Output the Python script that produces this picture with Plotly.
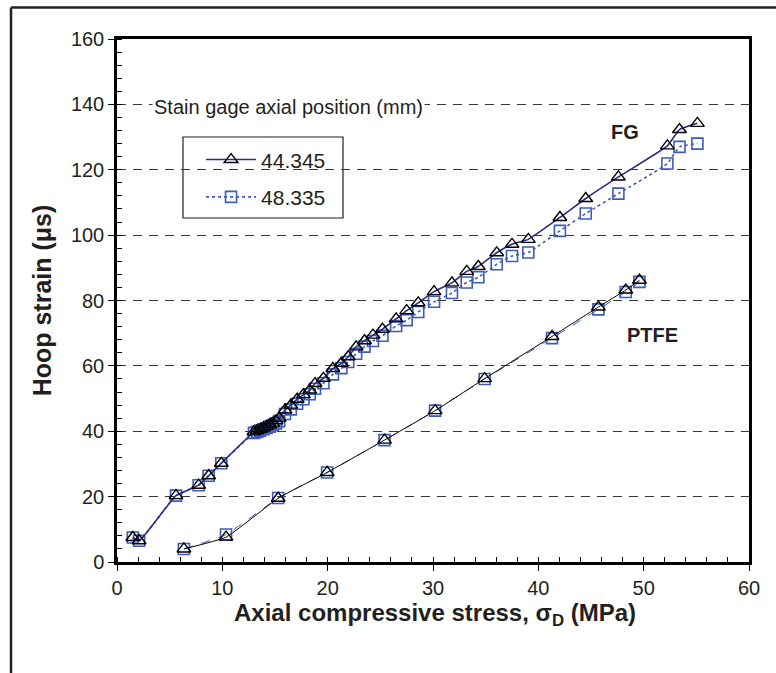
import plotly.graph_objects as go

# ---- data ----
fg_stress = [1.5, 2.1, 5.6, 7.75, 8.7, 9.9, 13.0, 13.3, 13.6, 13.9, 14.2, 14.5, 14.8, 15.1, 15.4,
             15.95, 16.5, 17.1, 17.7, 18.3, 18.8, 19.6, 20.5, 21.3, 21.95, 22.7, 23.5, 24.3, 25.2,
             26.5, 27.5, 28.6, 30.1, 31.8, 33.2, 34.3, 36.05, 37.5, 39.05, 42.05, 44.5, 47.6,
             52.25, 53.4, 55.1]
fg_44345 = [7.5, 6.5, 20.3, 23.5, 26.4, 30.2, 39.8, 40.2, 40.6, 41.0, 41.5, 42.0, 42.5, 43.2, 44.0,
            46.5, 48.0, 49.8, 51.2, 52.6, 54.6, 56.2, 59.2, 60.8, 62.8, 65.8, 67.7, 69.4, 71.2,
            74.4, 76.9, 79.3, 82.7, 85.4, 88.9, 90.4, 94.6, 97.2, 98.7, 105.4, 111.2, 117.8,
            127.3, 132.3, 134.2]
fg_48335 = [7.5, 6.5, 20.3, 23.5, 26.4, 30.2, 39.5, 39.8, 40.2, 40.6, 41.0, 41.4, 41.9, 42.4, 43.1,
            45.3, 46.7, 48.4, 49.8, 51.3, 53.0, 54.7, 57.4, 59.3, 61.2, 63.7, 65.9, 67.6, 69.2,
            72.2, 74.0, 76.5, 79.6, 82.3, 85.5, 87.1, 91.1, 93.6, 94.7, 101.3, 106.6, 112.7,
            121.9, 127.0, 128.0]

ptfe_stress = [6.35, 10.35, 15.3, 19.95, 25.4, 30.2, 34.9, 41.3, 45.7, 48.3, 49.6]
ptfe_44345 = [4.0, 7.6, 19.5, 27.4, 37.3, 46.3, 56.1, 69.0, 78.0, 83.2, 86.2]
ptfe_48335 = [4.0, 8.4, 19.6, 27.4, 37.3, 46.3, 56.0, 68.5, 77.3, 82.6, 85.7]

series_names = ["44.345", "48.335"]
x_ticks = [0, 10, 20, 30, 40, 50, 60]
y_ticks = [0, 20, 40, 60, 80, 100, 120, 140, 160]

NAVY = "#2b2d84"
BLUE = "#3d5cb8"
FONT = "Liberation Sans, Arial, sans-serif"
TXT = "#231f20"

fig = go.Figure()

tri = dict(symbol="triangle-up-open", size=12, color="black", line=dict(width=1.4, color="black"))
sq = dict(symbol="square-open", size=11, color=BLUE, line=dict(width=1.6, color=BLUE))

# PTFE (drawn first)
fig.add_trace(go.Scatter(x=ptfe_stress, y=ptfe_48335, mode="lines+markers", showlegend=False,
                         line=dict(color=BLUE, width=1, dash="dash", shape="spline", smoothing=0.4),
                         marker=sq))
fig.add_trace(go.Scatter(x=ptfe_stress, y=ptfe_44345, mode="lines+markers", showlegend=False,
                         line=dict(color="black", width=1, shape="spline", smoothing=0.4),
                         marker=tri))
# FG
fig.add_trace(go.Scatter(x=fg_stress, y=fg_48335, mode="lines+markers", name=series_names[1],
                         legendgroup="b", legendrank=2,
                         line=dict(color=BLUE, width=1.6, dash="dot", shape="spline", smoothing=0.4),
                         marker=sq))
fig.add_trace(go.Scatter(x=fg_stress, y=fg_44345, mode="lines+markers", name=series_names[0],
                         legendgroup="a", legendrank=1,
                         line=dict(color=NAVY, width=1.6, shape="spline", smoothing=0.4),
                         marker=tri))

axis_common = dict(showline=True, linecolor="black", linewidth=2.5, mirror=True,
                   ticks="outside", ticklen=6, tickwidth=1.2, tickcolor="black",
                   tickfont=dict(family=FONT, size=20, color=TXT), zeroline=False)

fig.update_xaxes(range=[0, 60], tickvals=x_ticks, showgrid=False,
                 minor=dict(ticks="inside", dtick=2, ticklen=5, tickwidth=1, tickcolor="black"),
                 **axis_common)
fig.update_yaxes(range=[0, 160], tickvals=y_ticks, showgrid=True, gridcolor="#3a3a3a",
                 griddash="9px,7px", gridwidth=1,
                 minor=dict(ticks="inside", dtick=4, ticklen=5, tickwidth=1, tickcolor="black",
                            showgrid=False),
                 title=dict(text="Hoop strain (μs)", standoff=13,
                            font=dict(family=FONT, size=25, color=TXT, weight="bold")),
                 **axis_common)

# x-axis title
fig.add_annotation(xref="paper", yref="paper", x=(435 - 117) / 632, y=(562 - 614) / 523,
                   xanchor="center", yanchor="middle", showarrow=False,
                   text="<b>Axial compressive stress, σ<sub>D</sub> (MPa)</b>",
                   font=dict(family=FONT, size=24, color=TXT))

# outer frame lines (figure border, top and left)
fig.add_shape(type="line", xref="paper", yref="paper", x0=-0.1677, x1=1.05, y0=1.06, y1=1.06,
              line=dict(color="#231f20", width=2.5))
fig.add_shape(type="line", xref="paper", yref="paper", x0=-0.1677, x1=-0.1677, y0=1.06, y1=-0.22,
              line=dict(color="#231f20", width=2.5))
# legend frame
fig.add_shape(type="rect", xref="paper", yref="paper", x0=0.1044, x1=0.3576, y0=0.8126, y1=0.6577,
              line=dict(color="#231f20", width=1.2), fillcolor="white", layer="below")

fig.add_annotation(xref="paper", yref="paper", x=(152 - 117) / 632, y=(562 - 107) / 523,
                   xanchor="left", yanchor="middle", showarrow=False,
                   text="Stain gage axial position (mm)",
                   font=dict(family=FONT, size=20, color=TXT), bgcolor="white")
fig.add_annotation(x=48.2, y=131.5, text="FG", showarrow=False,
                   font=dict(family=FONT, size=20, color=TXT, weight="bold"))
fig.add_annotation(x=50.8, y=69.4, text="PTFE", showarrow=False,
                   font=dict(family=FONT, size=20, color=TXT, weight="bold"))

fig.update_layout(
    width=776, height=673,
    margin=dict(l=117, r=27, t=39, b=111),
    plot_bgcolor="white", paper_bgcolor="white",
    font=dict(family=FONT, color=TXT),
    legend=dict(x=0.133, y=0.808, xanchor="left", yanchor="top",
                bgcolor="rgba(0,0,0,0)", borderwidth=0,
                font=dict(family=FONT, size=21, color=TXT),
                traceorder="grouped", tracegroupgap=7,
                itemwidth=50),
)

fig.write_html("out.html", config={"displayModeBar": False},
               post_script="document.body.style.margin='0';")
